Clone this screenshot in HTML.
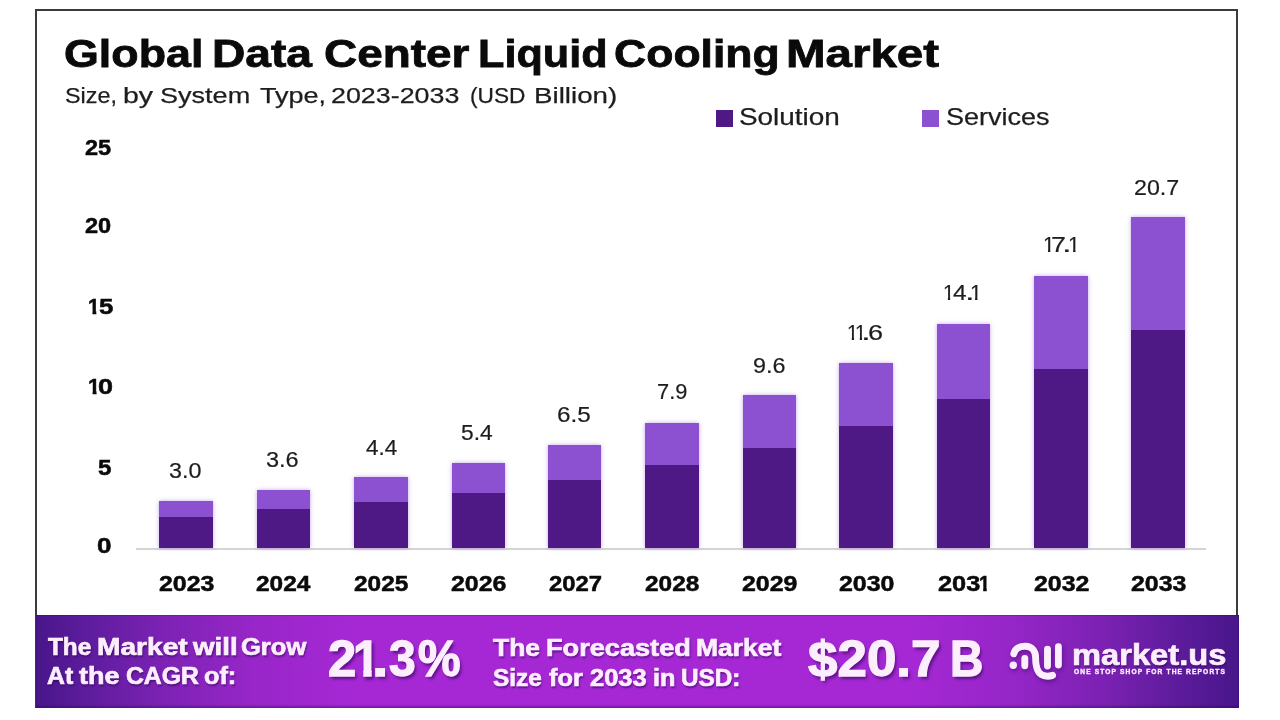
<!DOCTYPE html>
<html lang="en"><head><meta charset="utf-8"><title>Global Data Center Liquid Cooling Market</title>
<style>
html,body{margin:0;padding:0;background:#fff;}
body{width:1280px;height:720px;position:relative;overflow:hidden;font-family:"Liberation Sans",sans-serif;color:#0b0b0b;}
.frame{position:absolute;left:35px;top:9px;width:1199px;height:697px;border:2px solid #3a3a3f;border-bottom:none;background:#fff;}
.t{position:absolute;white-space:nowrap;transform-origin:0 0;}
.k{font-weight:700;color:#0a0a0a;-webkit-text-stroke-color:#0a0a0a;}
.g{font-weight:400;color:#1d1d1d;}
.w{font-weight:700;color:#fdeefe;-webkit-text-stroke-color:#fdeefe;text-shadow:1px 2px 2px rgba(45,0,85,.6);}
.big{text-shadow:2px 3px 3px rgba(45,0,85,.6);}
.bigwrap{text-shadow:none;filter:drop-shadow(2px 3px 1.5px rgba(45,0,85,.6));}
.clip1{display:block;clip-path:polygon(0 0,23px 0,23px 36px,19.5px 36px,19.5px 100%,10.75px 100%,10.75px 36px,0 36px);}
.tag{letter-spacing:1.1px;text-shadow:none;}
.sq{position:absolute;top:110px;width:17px;height:17px;}
.axis{position:absolute;left:136px;top:548px;width:1070px;height:1.5px;background:#d4d4d4;}
.bar{position:absolute;width:53.5px;background:#4e1985;box-shadow:0 0 4px rgba(139,82,207,.5);}
.bar i{display:block;background:#8b51d0;}
.banner{position:absolute;left:36px;top:614.5px;width:1203px;height:93.5px;box-shadow:inset 0 -2px 2px rgba(40,0,80,.35), inset 0 1px 1px rgba(40,0,80,.25);background:linear-gradient(90deg,#48168a 0%,#5c1c9c 4%,#7c22b4 10.5%,#9826c8 18%,#a528d4 26%,#a528d4 73%,#9626c8 81%,#7a21b2 89%,#5a1b9a 95.5%,#48168a 100%);}
</style></head><body>
<div class="frame"></div>
<div class="sq" style="left:716px;background:#4e1985"></div>
<div class="sq" style="left:922px;background:#8b51d0"></div>
<div class="axis"></div>
<div class="bar" style="left:159.00px;top:500.50px;height:47.50px"><i style="height:16.50px"></i></div><div class="bar" style="left:256.50px;top:489.50px;height:58.50px"><i style="height:19.75px"></i></div><div class="bar" style="left:354.00px;top:477.00px;height:71.00px"><i style="height:24.50px"></i></div><div class="bar" style="left:451.50px;top:463.25px;height:84.75px"><i style="height:29.25px"></i></div><div class="bar" style="left:547.70px;top:444.50px;height:103.50px"><i style="height:35.50px"></i></div><div class="bar" style="left:645.00px;top:423.00px;height:125.00px"><i style="height:41.50px"></i></div><div class="bar" style="left:742.50px;top:395.00px;height:153.00px"><i style="height:52.50px"></i></div><div class="bar" style="left:839.00px;top:362.50px;height:185.50px"><i style="height:63.25px"></i></div><div class="bar" style="left:936.50px;top:323.75px;height:224.25px"><i style="height:75.50px"></i></div><div class="bar" style="left:1034.00px;top:275.75px;height:272.25px"><i style="height:93.00px"></i></div><div class="bar" style="left:1131.20px;top:217.00px;height:331.00px"><i style="height:112.50px"></i></div>
<div class="banner"></div>
<svg style="position:absolute;left:1000px;top:630px;filter:drop-shadow(1px 2px 2px rgba(50,0,90,.5))" width="80" height="60" viewBox="1000 630 80 60" fill="none" stroke="#fdeefe" stroke-width="6.9" stroke-linecap="round" stroke-linejoin="round">
<circle cx="1013.3" cy="665.2" r="3.7" fill="#fdeefe" stroke="none"/>
<path d="M1013.8 653.8 C1015 648 1020.5 646 1025.5 646.2 C1032 646.4 1035.6 651 1035.6 657.5 C1035.6 663 1035.8 668 1038.8 672.2 C1041.8 676.2 1047.5 677 1052.6 675.4"/>
<path d="M1024.8 658.5 V665.8"/>
<path d="M1047.5 649.3 V666"/>
<path d="M1058.4 646.8 V665"/>
</svg>
<div class="grp"><span class="t k" style="left:64.36px;top:34.40px;font-size:39.4px;line-height:39.4px;transform:scaleX(1.1370);-webkit-text-stroke-width:0.8px;">Global</span> <span class="t k" style="left:212.06px;top:34.40px;font-size:39.4px;line-height:39.4px;transform:scaleX(1.1714);-webkit-text-stroke-width:0.8px;">Data</span> <span class="t k" style="left:323.83px;top:34.40px;font-size:39.4px;line-height:39.4px;transform:scaleX(1.1653);-webkit-text-stroke-width:0.8px;">Center</span> <span class="t k" style="left:477.81px;top:34.40px;font-size:39.4px;line-height:39.4px;transform:scaleX(1.0965);-webkit-text-stroke-width:0.8px;">Liquid</span> <span class="t k" style="left:614.17px;top:34.40px;font-size:39.4px;line-height:39.4px;transform:scaleX(1.1308);-webkit-text-stroke-width:0.8px;">Cooling</span> <span class="t k" style="left:785.89px;top:34.40px;font-size:39.4px;line-height:39.4px;transform:scaleX(1.2056);-webkit-text-stroke-width:0.8px;">Market</span></div>
<div class="grp"><span class="t g" style="left:64.67px;top:84.20px;font-size:22.8px;line-height:22.8px;transform:scaleX(1.0250);-webkit-text-stroke-width:0.25px;">Size,</span> <span class="t g" style="left:123.45px;top:84.20px;font-size:22.8px;line-height:22.8px;transform:scaleX(1.2478);-webkit-text-stroke-width:0.25px;">by</span> <span class="t g" style="left:160.41px;top:84.20px;font-size:22.8px;line-height:22.8px;transform:scaleX(1.1865);-webkit-text-stroke-width:0.25px;">System</span> <span class="t g" style="left:260.40px;top:84.20px;font-size:22.8px;line-height:22.8px;transform:scaleX(1.1852);-webkit-text-stroke-width:0.25px;">Type,</span> <span class="t g" style="left:330.82px;top:84.20px;font-size:22.8px;line-height:22.8px;transform:scaleX(1.1776);-webkit-text-stroke-width:0.25px;">2023-2033</span> <span class="t g" style="left:470.25px;top:84.20px;font-size:22.8px;line-height:22.8px;transform:scaleX(0.9954);-webkit-text-stroke-width:0.25px;">(USD</span> <span class="t g" style="left:533.82px;top:84.20px;font-size:22.8px;line-height:22.8px;transform:scaleX(1.2162);-webkit-text-stroke-width:0.25px;">Billion)</span></div>
<div class="grp"><span class="t g" style="left:739.05px;top:105.30px;font-size:24.3px;line-height:24.3px;transform:scaleX(1.1482);-webkit-text-stroke-width:0.25px;">Solution</span></div>
<div class="grp"><span class="t g" style="left:946.39px;top:105.30px;font-size:24.3px;line-height:24.3px;transform:scaleX(1.1121);-webkit-text-stroke-width:0.25px;">Services</span></div>
<div class="grp"><span class="t k" style="left:85.30px;top:136.70px;font-size:22px;line-height:22px;transform:scaleX(1.0667);-webkit-text-stroke-width:0.5px;">25</span></div>
<div class="grp"><span class="t k" style="left:85.30px;top:215.00px;font-size:22px;line-height:22px;transform:scaleX(1.0708);-webkit-text-stroke-width:0.5px;">20</span></div>
<div class="grp"><span class="t k" style="left:97.60px;top:456.70px;font-size:22px;line-height:22px;transform:scaleX(1.1000);-webkit-text-stroke-width:0.5px;">5</span></div>
<div class="grp"><span class="t k" style="left:97.12px;top:535.00px;font-size:22px;line-height:22px;transform:scaleX(1.1818);-webkit-text-stroke-width:0.5px;">0</span></div>
<div class="grp"><span class="t k" style="left:88.45px;top:296.00px;font-size:22px;line-height:22px;transform:scaleX(0.9467);-webkit-text-stroke-width:0.5px;"><span style="display:block;clip-path:polygon(0 0,12.5px 0,12.5px 14.5px,8.75px 14.5px,8.75px 100%,4.75px 100%,4.75px 14.5px,0 14.5px)">1</span></span><span class="t k" style="left:98.83px;top:296.30px;font-size:22px;line-height:22px;transform:scaleX(1.1727);-webkit-text-stroke-width:0.5px;">5</span></div>
<div class="grp"><span class="t k" style="left:88.23px;top:376.00px;font-size:22px;line-height:22px;transform:scaleX(0.9733);-webkit-text-stroke-width:0.5px;"><span style="display:block;clip-path:polygon(0 0,12.5px 0,12.5px 14.5px,8.75px 14.5px,8.75px 100%,4.75px 100%,4.75px 14.5px,0 14.5px)">1</span></span><span class="t k" style="left:98.37px;top:376.20px;font-size:22px;line-height:22px;transform:scaleX(1.2273);-webkit-text-stroke-width:0.5px;">0</span></div>
<div class="grp"><span class="t g" style="left:169.44px;top:460.00px;font-size:22px;line-height:22px;transform:scaleX(1.0603);-webkit-text-stroke-width:0.2px;">3.0</span></div>
<div class="grp"><span class="t k" style="left:158.55px;top:573.10px;font-size:22px;line-height:22px;transform:scaleX(1.1333);-webkit-text-stroke-width:0.5px;">2023</span></div>
<div class="grp"><span class="t g" style="left:265.93px;top:449.00px;font-size:22px;line-height:22px;transform:scaleX(1.0690);-webkit-text-stroke-width:0.2px;">3.6</span></div>
<div class="grp"><span class="t k" style="left:256.05px;top:573.10px;font-size:22px;line-height:22px;transform:scaleX(1.1102);-webkit-text-stroke-width:0.5px;">2024</span></div>
<div class="grp"><span class="t g" style="left:366.25px;top:436.50px;font-size:22px;line-height:22px;transform:scaleX(1.0250);-webkit-text-stroke-width:0.2px;">4.4</span></div>
<div class="grp"><span class="t k" style="left:353.55px;top:573.10px;font-size:22px;line-height:22px;transform:scaleX(1.1102);-webkit-text-stroke-width:0.5px;">2025</span></div>
<div class="grp"><span class="t g" style="left:461.47px;top:421.80px;font-size:22px;line-height:22px;transform:scaleX(1.0345);-webkit-text-stroke-width:0.2px;">5.4</span></div>
<div class="grp"><span class="t k" style="left:451.05px;top:573.10px;font-size:22px;line-height:22px;transform:scaleX(1.1333);-webkit-text-stroke-width:0.5px;">2026</span></div>
<div class="grp"><span class="t g" style="left:556.90px;top:404.00px;font-size:22px;line-height:22px;transform:scaleX(1.1034);-webkit-text-stroke-width:0.2px;">6.5</span></div>
<div class="grp"><span class="t k" style="left:549.45px;top:573.10px;font-size:22px;line-height:22px;transform:scaleX(1.0833);-webkit-text-stroke-width:0.5px;">2027</span></div>
<div class="grp"><span class="t g" style="left:656.51px;top:380.75px;font-size:22px;line-height:22px;transform:scaleX(0.9914);-webkit-text-stroke-width:0.2px;">7.9</span></div>
<div class="grp"><span class="t k" style="left:644.55px;top:573.10px;font-size:22px;line-height:22px;transform:scaleX(1.1102);-webkit-text-stroke-width:0.5px;">2028</span></div>
<div class="grp"><span class="t g" style="left:752.69px;top:354.50px;font-size:22px;line-height:22px;transform:scaleX(1.0603);-webkit-text-stroke-width:0.2px;">9.6</span></div>
<div class="grp"><span class="t k" style="left:742.05px;top:573.10px;font-size:22px;line-height:22px;transform:scaleX(1.1333);-webkit-text-stroke-width:0.5px;">2029</span></div>
<div class="grp"><span class="t g" style="left:846.78px;top:322.00px;font-size:22px;line-height:22px;transform:scaleX(0.9091);-webkit-text-stroke-width:0.2px;"><span style="display:block;clip-path:polygon(0 0,11.5px 0,11.5px 15.25px,7.75px 15.25px,7.75px 100%,5.25px 100%,5.25px 15.25px,0 15.25px)">1</span></span><span class="t g" style="left:854.58px;top:322.00px;font-size:22px;line-height:22px;transform:scaleX(0.9091);-webkit-text-stroke-width:0.2px;"><span style="display:block;clip-path:polygon(0 0,11.5px 0,11.5px 15.25px,7.75px 15.25px,7.75px 100%,5.25px 100%,5.25px 15.25px,0 15.25px)">1</span></span><span class="t g" style="left:861.10px;top:322.40px;font-size:22px;line-height:22px;transform:scaleX(1.6000);-webkit-text-stroke-width:0.2px;">.</span><span class="t g" style="left:868.17px;top:322.40px;font-size:22px;line-height:22px;transform:scaleX(1.2300);-webkit-text-stroke-width:0.2px;">6</span></div>
<div class="grp"><span class="t k" style="left:838.55px;top:573.10px;font-size:22px;line-height:22px;transform:scaleX(1.1333);-webkit-text-stroke-width:0.5px;">2030</span></div>
<div class="grp"><span class="t g" style="left:943.45px;top:282.00px;font-size:22px;line-height:22px;transform:scaleX(0.9273);-webkit-text-stroke-width:0.2px;"><span style="display:block;clip-path:polygon(0 0,11.5px 0,11.5px 15.25px,7.75px 15.25px,7.75px 100%,5.25px 100%,5.25px 15.25px,0 15.25px)">1</span></span><span class="t g" style="left:953.40px;top:282.10px;font-size:22px;line-height:22px;transform:scaleX(1.1083);-webkit-text-stroke-width:0.2px;">4</span><span class="t g" style="left:964.80px;top:282.10px;font-size:22px;line-height:22px;transform:scaleX(1.5500);-webkit-text-stroke-width:0.2px;">.</span><span class="t g" style="left:970.37px;top:282.00px;font-size:22px;line-height:22px;transform:scaleX(0.9636);-webkit-text-stroke-width:0.2px;"><span style="display:block;clip-path:polygon(0 0,11.5px 0,11.5px 15.25px,7.75px 15.25px,7.75px 100%,5.25px 100%,5.25px 15.25px,0 15.25px)">1</span></span></div>
<div class="grp"><span class="t k" style="left:937.50px;top:573.10px;font-size:22px;line-height:22px;transform:scaleX(1.1528);-webkit-text-stroke-width:0.5px;">203</span><span class="t k" style="left:979.42px;top:573.00px;font-size:22px;line-height:22px;transform:scaleX(0.8800);-webkit-text-stroke-width:0.5px;"><span style="display:block;clip-path:polygon(0 0,12.5px 0,12.5px 14.5px,8.75px 14.5px,8.75px 100%,4.75px 100%,4.75px 14.5px,0 14.5px)">1</span></span></div>
<div class="grp"><span class="t g" style="left:1042.51px;top:234.00px;font-size:22px;line-height:22px;transform:scaleX(0.9455);-webkit-text-stroke-width:0.2px;"><span style="display:block;clip-path:polygon(0 0,11.5px 0,11.5px 15.25px,7.75px 15.25px,7.75px 100%,5.25px 100%,5.25px 15.25px,0 15.25px)">1</span></span><span class="t g" style="left:1050.78px;top:234.00px;font-size:22px;line-height:22px;transform:scaleX(1.2200);-webkit-text-stroke-width:0.2px;">7</span><span class="t g" style="left:1062.10px;top:234.00px;font-size:22px;line-height:22px;transform:scaleX(1.5500);-webkit-text-stroke-width:0.2px;">.</span><span class="t g" style="left:1067.77px;top:234.00px;font-size:22px;line-height:22px;transform:scaleX(0.9636);-webkit-text-stroke-width:0.2px;"><span style="display:block;clip-path:polygon(0 0,11.5px 0,11.5px 15.25px,7.75px 15.25px,7.75px 100%,5.25px 100%,5.25px 15.25px,0 15.25px)">1</span></span></div>
<div class="grp"><span class="t k" style="left:1033.55px;top:573.10px;font-size:22px;line-height:22px;transform:scaleX(1.1333);-webkit-text-stroke-width:0.5px;">2032</span></div>
<div class="grp"><span class="t g" style="left:1134.14px;top:176.70px;font-size:22px;line-height:22px;transform:scaleX(1.0561);-webkit-text-stroke-width:0.2px;">20.7</span></div>
<div class="grp"><span class="t k" style="left:1130.75px;top:573.10px;font-size:22px;line-height:22px;transform:scaleX(1.1333);-webkit-text-stroke-width:0.5px;">2033</span></div>
<div class="grp"><span class="t w" style="left:47.70px;top:634.80px;font-size:24px;line-height:24px;transform:scaleX(1.0143);-webkit-text-stroke-width:0.7px;">The</span> <span class="t w" style="left:97.43px;top:634.80px;font-size:24px;line-height:24px;transform:scaleX(1.1714);-webkit-text-stroke-width:0.7px;">Market</span> <span class="t w" style="left:193.10px;top:634.80px;font-size:24px;line-height:24px;transform:scaleX(1.1541);-webkit-text-stroke-width:0.7px;">will</span> <span class="t w" style="left:241.34px;top:634.80px;font-size:24px;line-height:24px;transform:scaleX(1.0639);-webkit-text-stroke-width:0.7px;">Grow</span> <span class="t w" style="left:47.00px;top:664.20px;font-size:24px;line-height:24px;transform:scaleX(1.0320);-webkit-text-stroke-width:0.7px;">At</span> <span class="t w" style="left:79.40px;top:664.20px;font-size:24px;line-height:24px;transform:scaleX(1.1222);-webkit-text-stroke-width:0.7px;">the</span> <span class="t w" style="left:126.47px;top:664.20px;font-size:24px;line-height:24px;transform:scaleX(1.0304);-webkit-text-stroke-width:0.7px;">CAGR</span> <span class="t w" style="left:204.15px;top:664.20px;font-size:24px;line-height:24px;transform:scaleX(1.0536);-webkit-text-stroke-width:0.7px;">of:</span></div>
<div class="grp"><span class="t w" style="left:492.50px;top:636.20px;font-size:24px;line-height:24px;transform:scaleX(1.1012);-webkit-text-stroke-width:0.7px;">The</span> <span class="t w" style="left:545.87px;top:636.20px;font-size:24px;line-height:24px;transform:scaleX(1.1310);-webkit-text-stroke-width:0.7px;">Forecasted</span> <span class="t w" style="left:696.40px;top:636.20px;font-size:24px;line-height:24px;transform:scaleX(1.1039);-webkit-text-stroke-width:0.7px;">Market</span> <span class="t w" style="left:492.50px;top:666.20px;font-size:24px;line-height:24px;transform:scaleX(1.0156);-webkit-text-stroke-width:0.7px;">Size</span> <span class="t w" style="left:548.75px;top:666.20px;font-size:24px;line-height:24px;transform:scaleX(1.0547);-webkit-text-stroke-width:0.7px;">for</span> <span class="t w" style="left:590.00px;top:666.20px;font-size:24px;line-height:24px;transform:scaleX(1.0613);-webkit-text-stroke-width:0.7px;">2033</span> <span class="t w" style="left:652.70px;top:666.20px;font-size:24px;line-height:24px;transform:scaleX(1.0526);-webkit-text-stroke-width:0.7px;">in</span> <span class="t w" style="left:680.99px;top:666.20px;font-size:24px;line-height:24px;transform:scaleX(1.0134);-webkit-text-stroke-width:0.7px;">USD:</span></div>
<div class="grp"><span class="t w big" style="left:327.98px;top:634.00px;font-size:50px;line-height:50px;transform:scaleX(1.0160);-webkit-text-stroke-width:1.3px;">2</span><span class="t w bigwrap" style="left:352.72px;top:634.00px;font-size:50px;line-height:50px;transform:scaleX(0.9600);-webkit-text-stroke-width:1.3px;"><span style="display:block;clip-path:polygon(0 0,23.25px 0,23.25px 35.25px,19.5px 35.25px,19.5px 100%,10.75px 100%,10.75px 35.25px,0 35.25px)">1</span></span><span class="t w big" style="left:372.08px;top:634.00px;font-size:50px;line-height:50px;transform:scaleX(1.1750);-webkit-text-stroke-width:1.3px;">.</span><span class="t w big" style="left:389.04px;top:634.00px;font-size:50px;line-height:50px;transform:scaleX(0.9615);-webkit-text-stroke-width:1.3px;">3</span><span class="t w big" style="left:417.79px;top:634.00px;font-size:50px;line-height:50px;transform:scaleX(0.9593);-webkit-text-stroke-width:1.3px;">%</span></div>
<div class="grp"><span class="t w big" style="left:807.80px;top:634.30px;font-size:49.5px;line-height:49.5px;transform:scaleX(1.0697);-webkit-text-stroke-width:1.3px;">$20.7</span> <span class="t w big" style="left:949.50px;top:634.30px;font-size:49.5px;line-height:49.5px;transform:scaleX(0.9339);-webkit-text-stroke-width:1.3px;">B</span></div>
<div class="grp"><span class="t w" style="left:1072.12px;top:640.00px;font-size:30px;line-height:30px;transform:scaleX(1.0892);-webkit-text-stroke-width:0.7px;">market.us</span></div>
<div class="grp"><span class="t w tag" style="left:1074.30px;top:669.30px;font-size:6.3px;line-height:6.3px;transform:scaleX(1.0465);-webkit-text-stroke-width:0.35px;">ONE STOP SHOP FOR THE REPORTS</span></div>
</body></html>
